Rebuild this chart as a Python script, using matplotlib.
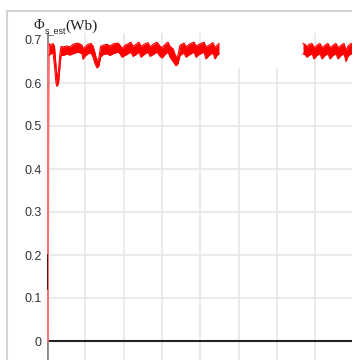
import numpy as np
import matplotlib.pyplot as plt
from matplotlib.lines import Line2D

# flux estimate: sample position (px along time axis), upper / lower envelope (Wb)
seg1_px = [49, 51, 53, 54.5, 56, 57, 58.5, 60, 61, 63, 67, 70, 73, 78, 82, 83, 85, 88, 91, 93, 95, 97, 99,
           100.5, 103, 107, 110, 113, 118, 120, 122, 125, 128, 131, 133, 136, 139, 141, 144, 148, 150, 153,
           157, 160, 162, 165, 168, 170, 173, 176, 178, 180, 184, 186, 189, 194, 196, 199, 204, 206, 209,
           213, 215, 217, 219]
seg1_hi = [0.690, 0.688, 0.692, 0.685, 0.640, 0.610, 0.630, 0.670, 0.685, 0.684, 0.686, 0.684, 0.690, 0.693,
           0.688, 0.680, 0.684, 0.690, 0.692, 0.686, 0.670, 0.650, 0.660, 0.685, 0.688, 0.690, 0.686, 0.691,
           0.693, 0.688, 0.680, 0.688, 0.691, 0.695, 0.685, 0.690, 0.695, 0.685, 0.690, 0.694, 0.684, 0.690,
           0.695, 0.686, 0.682, 0.690, 0.695, 0.685, 0.680, 0.660, 0.665, 0.688, 0.693, 0.684, 0.690, 0.695,
           0.686, 0.690, 0.695, 0.684, 0.688, 0.694, 0.682, 0.688, 0.692]
seg1_lo = [0.665, 0.668, 0.670, 0.640, 0.600, 0.592, 0.600, 0.640, 0.665, 0.664, 0.667, 0.665, 0.668, 0.672,
           0.668, 0.655, 0.662, 0.668, 0.670, 0.660, 0.645, 0.635, 0.640, 0.660, 0.666, 0.668, 0.664, 0.668,
           0.672, 0.668, 0.660, 0.664, 0.668, 0.672, 0.662, 0.666, 0.672, 0.660, 0.666, 0.672, 0.662, 0.666,
           0.672, 0.662, 0.658, 0.666, 0.672, 0.660, 0.650, 0.640, 0.645, 0.664, 0.670, 0.660, 0.665, 0.672,
           0.660, 0.666, 0.672, 0.656, 0.664, 0.670, 0.656, 0.664, 0.668]

seg2_px = [303, 305, 307, 309, 312, 314, 317, 320, 322, 325, 328, 330, 333, 336, 338, 341, 344, 346, 348, 351, 353]
seg2_hi = [0.692, 0.690, 0.684, 0.690, 0.692, 0.682, 0.688, 0.692, 0.682, 0.688, 0.692, 0.682, 0.688, 0.692,
           0.682, 0.688, 0.692, 0.676, 0.686, 0.692, 0.690]
seg2_lo = [0.668, 0.666, 0.660, 0.664, 0.668, 0.656, 0.664, 0.668, 0.656, 0.664, 0.668, 0.656, 0.664, 0.668,
           0.656, 0.664, 0.668, 0.650, 0.662, 0.668, 0.666]

# start-up transient
start_px = [47.6, 48.0, 48.5, 49.0]
start_val = [0.0, 0.45, 0.62, 0.69]

y_ticks = [0, 0.1, 0.2, 0.3, 0.4, 0.5, 0.6, 0.7]
y_labels = ['0', '0.1', '0.2', '0.3', '0.4', '0.5', '0.6', '0.7']

X0, PX_PER_UNIT = 47, 383.0


def to_t(px):
    return (np.asarray(px, dtype=float) - X0) / PX_PER_UNIT


fig = plt.figure(figsize=(3.52, 3.6), dpi=100)
ax = fig.add_axes([47 / 352, 0, 1 - 47 / 352, (360 - 33) / 360])
ax.set_xlim(0, (352 - X0) / PX_PER_UNIT)
ax.set_ylim((341 - 360) / 430, (341 - 33) / 430)
for s in ax.spines.values():
    s.set_visible(False)
ax.set_xticks([])
ax.set_yticks(y_ticks)
ax.set_yticklabels(y_labels, fontsize=9, color='#333333', family='Liberation Sans')
ax.tick_params(axis='y', length=0, pad=4)

# grid
for v in y_ticks[1:-1]:
    ax.axhline(v, color='#e6e6e6', lw=1.2, zorder=0)
grid_t = [0.1, 0.2, 0.3, 0.4, 0.5, 0.6, 0.7]
grid_top = [1.0, 1.0, 1.0, 1.0, 0.89, 0.89, 1.0]
for t, top in zip(grid_t, grid_top):
    ax.axvline(t, ymax=top, color='#e6e6e6', lw=1.2, zorder=0)

ax.axvline(0, color='#8a8a8a', lw=2.0, zorder=2)
ax.axhline(0, color='#222222', lw=1.5, zorder=2)

# signal
red = '#ff0000'
ax.plot(to_t(start_px), start_val, color='#ff7070', lw=1.8, zorder=3)
ax.plot([0, 0], [0.12, 0.2], color='#400000', lw=1.2, zorder=4)
for px, hi, lo in [(seg1_px, seg1_hi, seg1_lo), (seg2_px, seg2_hi, seg2_lo)]:
    t = to_t(px)
    ax.fill_between(t, lo, hi, color=red, lw=0, zorder=3)
    ax.plot(t, hi, color=red, lw=0.8, zorder=3)
    ax.plot(t, lo, color=red, lw=0.8, zorder=3)

# outer frame
fig.add_artist(Line2D([7 / 352, 1], [1 - 11 / 360, 1 - 11 / 360], color='#d4d4d4', lw=1.5))
fig.add_artist(Line2D([7 / 352, 7 / 352], [0, 1 - 11 / 360], color='#d4d4d4', lw=1.5))

# axis title
fig.text(33 / 352, 1 - 29 / 360, '\u03a6', fontsize=10.5, family='Liberation Serif', color='#222222')
fig.text(45 / 352, 1 - 33 / 360, 's_est', fontsize=6.5, family='Liberation Sans', color='#222222')
fig.text(65 / 352, 1 - 30 / 360, '(Wb)', fontsize=11, family='Liberation Serif', color='#222222')

fig.savefig('out.png', dpi=100)
